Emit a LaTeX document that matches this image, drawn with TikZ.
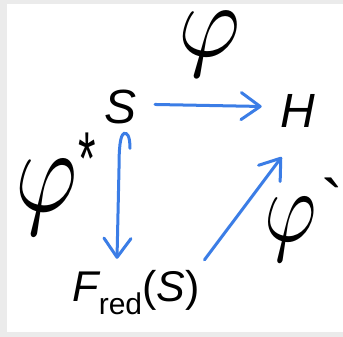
\documentclass[tikz,border=0pt]{standalone}
\usepackage{fontspec}
\setmainfont{Liberation Sans}
\usepackage{graphicx}
\usetikzlibrary{arrows.meta,calc}
\definecolor{arrblue}{RGB}{59,125,230}
\definecolor{framegray}{RGB}{235,235,235}
\tikzset{
  arr/.style={draw=arrblue, line width=3pt, line cap=round,
    -{Straight Barb[length=19pt,width=27pt,line cap=round,line join=round]}},
  obj/.style={inner sep=0pt, outer sep=0pt, anchor=base, font=\fontsize{48}{52}\selectfont\itshape},
  lab/.style={inner sep=0pt, outer sep=0pt, anchor=base west, font=\normalsize}
}
\begin{document}
\begin{tikzpicture}[x=1pt,y=1pt]
\useasboundingbox (0,0) rectangle (343,337);
\fill[framegray] (0,0) rectangle (343,337);
\fill[white] (7,5) rectangle (343,333);
% objects
\node[obj] (S) at (121,213) {S};
\node[obj] (H) at (298,209) {H};
\node[obj, font=\fontsize{43}{48}\selectfont\itshape] (F) at (136,35) {F\raisebox{-13pt}{\fontsize{30}{30}\selectfont\upshape red}\upshape(\itshape S\upshape)};
% labels
\node[lab] (phi) at (178,280) {\scalebox{9.5}[10.4]{$\varphi$}};
\node[lab] (phistar) at (16,125) {\scalebox{9.5}[12]{$\varphi$}\raisebox{27pt}{\fontsize{50}{50}\selectfont\scalebox{0.9}[1.5]{*}}};
\node[lab] (phiprime) at (264,95) {\scalebox{8}[10.2]{$\varphi$}\hspace{5pt}\raisebox{15pt}{\fontsize{66}{66}\selectfont\textasciigrave}};
% connectors
\coordinate (hs) at ($(S.south)+(9,-24)$);
\coordinate (ht) at ($(F.north)+(-19,12)$);
\draw[arr] (hs) .. controls ($(hs)+(0,13)$) and ($(hs)+(-3,16)$) .. ($(hs)+(-6,15)$)
  .. controls ($(hs)+(-10,13)$) and ($(hs)+(-11,0)$) .. ($(hs)+(-11,-20)$)
  -- (ht);
\draw[arr] ($(S.east)+(18,3)$) -- ($(H.west)+(-19,5)$);
\draw[arr] ($(F.north east)+(5,11)$) -- ($(H.south west)+(1,-29)$);
\end{tikzpicture}
\end{document}
